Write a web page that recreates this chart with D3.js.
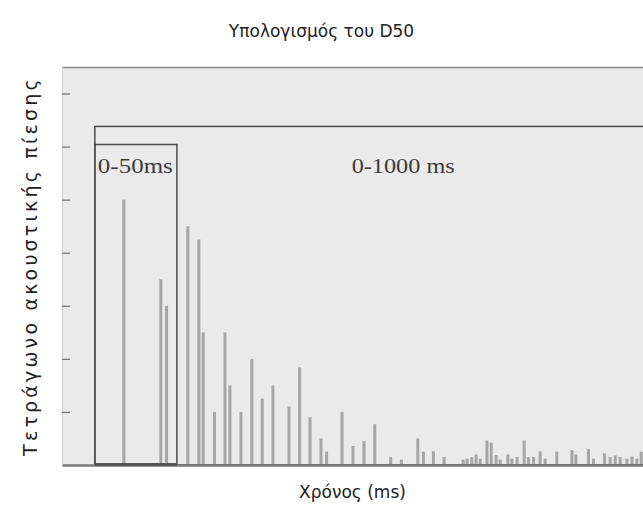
<!DOCTYPE html>
<html>
<head>
<meta charset="utf-8">
<script src="https://cdn.jsdelivr.net/npm/d3@7"></script>
<style>
  body { margin: 0; background: #fff; }
  svg { display: block; }
  .lbl { font-family: 'DejaVu Sans', sans-serif; fill: #222; }
  .win { font-family: 'Liberation Serif', serif; fill: #3a3a3a; }
</style>
</head>
<body>
<svg id="chart" width="643" height="526"></svg>
<script>
// impulse response reflections (time in ms, squared pressure, arbitrary units)
const impulseTimes = [17.7, 40.2, 43.7, 56.7, 63.4, 66.0, 72.9, 79.3, 82.3, 89.0,
  95.7, 102.0, 108.5, 118.3, 124.8, 131.1, 137.8, 141.2, 150.6, 157.3,
  164.0, 170.6, 180.3, 186.8, 196.8, 200.2, 206.3, 212.8, 224.4, 226.8,
  229.7, 232.3, 234.8, 238.9, 241.5, 244.5, 247.0, 251.7, 254.1, 257.3,
  261.6, 264.2, 267.3, 271.3, 274.4, 281.5, 290.7, 293.1, 300.8, 303.9,
  310.6, 314.0, 317.1, 320.1, 324.2, 327.3, 330.3, 332.9];
const impulseLevels = [5.0, 3.5, 3.0, 4.5, 4.25, 2.5, 1.0, 2.5, 1.5, 1.0,
  2.0, 1.25, 1.5, 1.1, 1.84, 0.9, 0.5, 0.25, 1.0, 0.36,
  0.45, 0.77, 0.15, 0.1, 0.5, 0.25, 0.26, 0.15, 0.1, 0.12,
  0.15, 0.2, 0.12, 0.46, 0.42, 0.19, 0.1, 0.2, 0.12, 0.15,
  0.46, 0.15, 0.15, 0.26, 0.12, 0.25, 0.28, 0.2, 0.3, 0.12,
  0.22, 0.15, 0.18, 0.15, 0.12, 0.16, 0.12, 0.25];

// integration windows
const windowNames = ['0-1000 ms', '0-50ms'];
const windowEnds = [1000, 50];
const windowTops = [6.38, 6.04];

const yTicks = [1, 2, 3, 4, 5, 6, 7];

const title = 'Υπολογισμός του D50';
const xTitle = 'Χρόνος (ms)';
const yTitle = 'Τετράγωνο ακουστικής πίεσης';

const svg = d3.select('#chart');
const margin = { top: 67, right: 0, bottom: 61, left: 62 };
const W = 643 - margin.left - margin.right;
const H = 526 - margin.top - margin.bottom;

const x = d3.scaleLinear().domain([-20, 334]).range([0, W]);
const y = d3.scaleLinear().domain([0, 7.5]).range([H, 0]);

svg.append('defs').append('clipPath').attr('id', 'plotclip')
  .append('rect').attr('width', W).attr('height', H + 4).attr('y', -2);

const g = svg.append('g').attr('transform', `translate(${margin.left},${margin.top})`);

// scanned-figure background
g.append('rect')
  .attr('width', W).attr('height', H)
  .attr('fill', '#eaeaea');
g.append('line')
  .attr('x1', 0).attr('x2', W).attr('y1', 0.5).attr('y2', 0.5)
  .attr('stroke', '#8a8a8a').attr('stroke-width', 1.6);
g.append('line')
  .attr('x1', 0.5).attr('x2', 0.5).attr('y1', 0).attr('y2', H)
  .attr('stroke', '#d0d0d0').attr('stroke-width', 1);

const inner = g.append('g').attr('clip-path', 'url(#plotclip)');

// reflections
inner.selectAll('.bar')
  .data(impulseTimes.map((t, i) => ({ t, v: impulseLevels[i] })))
  .enter().append('rect')
    .attr('class', 'bar')
    .attr('x', d => x(d.t) - 1.5)
    .attr('width', 3)
    .attr('y', d => y(d.v))
    .attr('height', d => y(0) - y(d.v))
    .attr('fill', '#a6a6a6');

// window boxes
const wins = windowNames.map((n, i) => ({ name: n, end: windowEnds[i], top: windowTops[i] }));
inner.selectAll('.win-box')
  .data(wins).enter().append('rect')
    .attr('class', 'win-box')
    .attr('x', x(0))
    .attr('y', d => y(d.top))
    .attr('width', d => x(d.end) - x(0))
    .attr('height', d => y(0) - y(d.top))
    .attr('fill', 'none')
    .attr('stroke', '#4a4a4a')
    .attr('stroke-width', 1.5);

// baseline
g.append('g')
  .attr('transform', `translate(0,${H})`)
  .call(d3.axisBottom(x).tickValues([]).tickSizeOuter(0))
  .select('.domain').attr('stroke', '#7a7a7a').attr('stroke-width', 2.5);
g.append('line')
  .attr('x1', x(0)).attr('x2', x(50)).attr('y1', H - 0.5).attr('y2', H - 0.5)
  .attr('stroke', '#555').attr('stroke-width', 3);

// y ticks, no labels
const ya = g.append('g')
  .call(d3.axisLeft(y).tickValues(yTicks).tickSizeInner(-8).tickSizeOuter(0).tickFormat(''));
ya.select('.domain').remove();
ya.selectAll('.tick line').attr('stroke', '#777').attr('stroke-width', 1.3);

// window labels (scanned serif, wide)
g.append('text').attr('class', 'win')
  .attr('x', x(0) + 3).attr('y', y(5.5))
  .attr('font-size', 20)
  .attr('textLength', 75).attr('lengthAdjust', 'spacingAndGlyphs')
  .text(windowNames[1]);
g.append('text').attr('class', 'win')
  .attr('x', x(156.5)).attr('y', y(5.5))
  .attr('font-size', 20)
  .attr('textLength', 103).attr('lengthAdjust', 'spacingAndGlyphs')
  .text(windowNames[0]);

// titles
svg.append('text').attr('class', 'lbl')
  .attr('x', 321.5).attr('y', 37)
  .attr('text-anchor', 'middle')
  .attr('font-size', 17)
  .text(title);
svg.append('text').attr('class', 'lbl')
  .attr('x', margin.left + W / 2).attr('y', 498)
  .attr('text-anchor', 'middle')
  .attr('font-size', 17)
  .text(xTitle);
svg.append('text').attr('class', 'lbl')
  .attr('transform', `translate(37,${margin.top + H / 2}) rotate(-90)`)
  .attr('text-anchor', 'middle')
  .attr('font-size', 19)
  .attr('letter-spacing', 3.2)
  .text(yTitle);
</script>
</body>
</html>
